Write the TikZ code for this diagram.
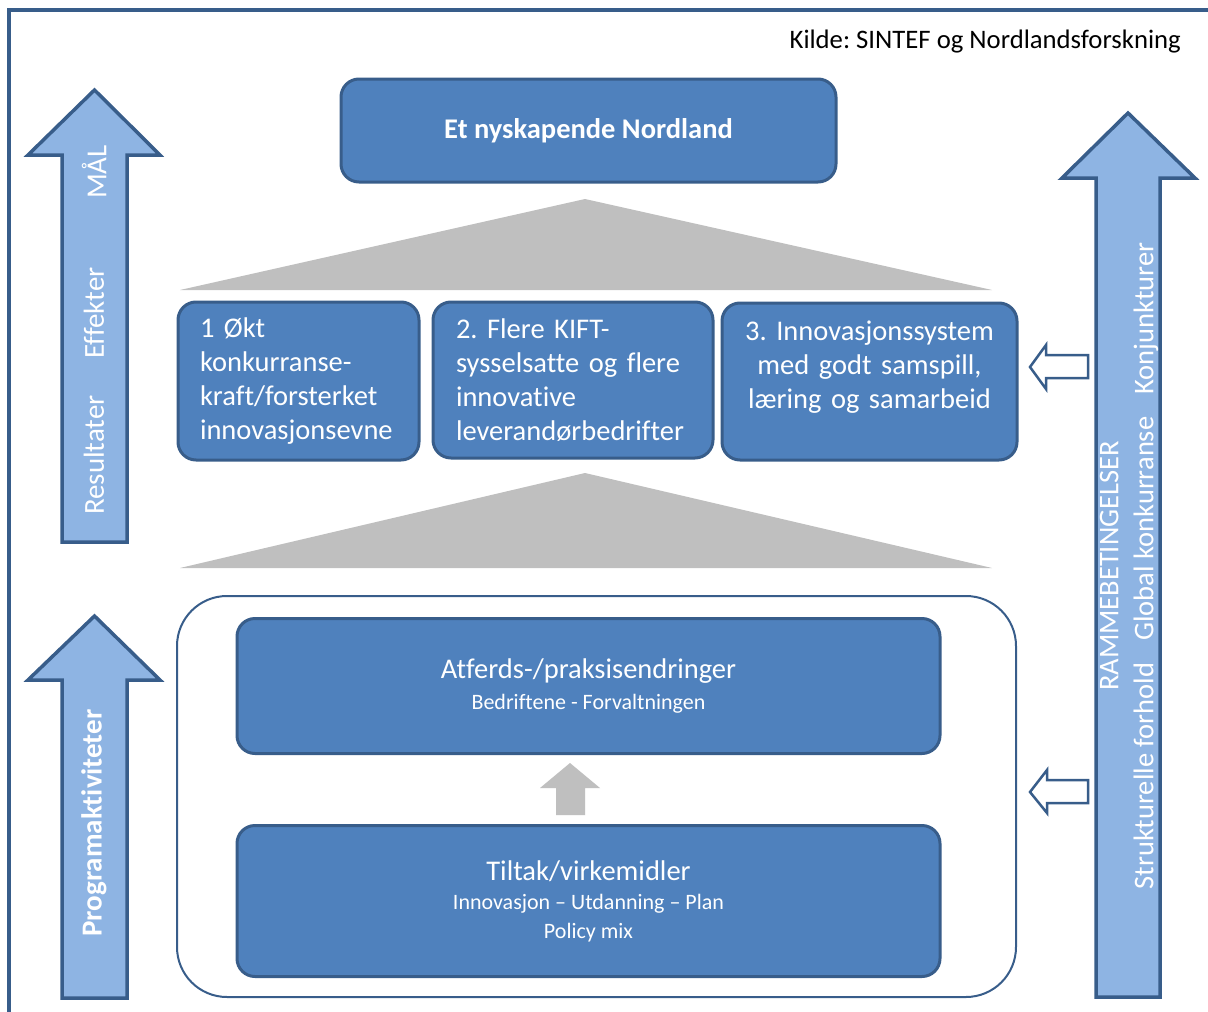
\documentclass[tikz,border=0pt]{standalone}
\usepackage{fontspec}
\setmainfont{Carlito}[Ligatures=NoCommon]
\frenchspacing
\definecolor{boxfill}{HTML}{4F81BD}
\definecolor{boxline}{HTML}{385D8A}
\definecolor{arrfill}{HTML}{8EB4E3}
\definecolor{grayfill}{HTML}{BFBFBF}
\begin{document}
\begin{tikzpicture}[x=1pt,y=-1pt,
  box/.style={draw=boxline, line width=3pt, fill=boxfill, rounded corners=18pt, text=white, inner sep=0pt},
  bigarrow/.style={draw=boxline, line width=3.5pt, fill=arrfill, line join=miter},
  hollow/.style={draw=boxline, line width=2.5pt, fill=white, line join=miter},
  tri/.style={fill=grayfill},
  vlabel/.style={rotate=90, text=white, font=\fontsize{29}{34}\selectfont, inner sep=0pt},
  boxtext/.style={font=\fontsize{28.5}{34}\selectfont}
]
\useasboundingbox (0,0) rectangle (1208,1012);
% frame
\draw[line width=4pt, boxline] (9,1014) -- (9,10) -- (1210,10);
\node[anchor=east, font=\fontsize{26.7}{30}\selectfont, inner sep=0pt] (src) at (1181,42) {Kilde: SINTEF og Nordlandsforskning};

% left arrows
\draw[bigarrow] (62,542) -- (62,155) -- (28,155) -- (94.5,90) -- (160,155) -- (127,155) -- (127,542) -- cycle;
\draw[bigarrow] (62,998) -- (62,680) -- (28,680) -- (94.5,616) -- (160,680) -- (127,680) -- (127,998) -- cycle;
\node[vlabel] (mal) at (94,172) {MÅL};
\node[vlabel] (eff) at (94,313) {Effekter};
\node[vlabel] (res) at (94,455) {Resultater};
\node[vlabel, font=\fontsize{29}{34}\selectfont\bfseries] (prog) at (94,823) {Programaktiviteter};

% right arrow
\draw[bigarrow] (1096,997) -- (1096,178) -- (1062,178) -- (1128,113) -- (1195,178) -- (1160,178) -- (1160,997) -- cycle;
\node[vlabel, align=center, font=\fontsize{28.5}{35}\selectfont] (ramme) at (1129,566)
  {RAMMEBETINGELSER\\Strukturelle forhold\hspace{22pt}Global konkurranse\hspace{22pt}Konjunkturer};

% hollow arrows
\draw[hollow] (1088,355) -- (1046,355) -- (1046,345) -- (1030,367) -- (1046,389) -- (1046,378) -- (1088,378) -- cycle;
\draw[hollow] (1088,780) -- (1047,780) -- (1047,770) -- (1030,792) -- (1047,813) -- (1047,803) -- (1088,803) -- cycle;

% top box
\node[box, minimum width=495pt, minimum height=103pt, font=\fontsize{28.5}{32}\selectfont\bfseries] (goal) at (588.5,130.5) {Et nyskapende Nordland};

% triangles
\fill[tri] (180,290) -- (585,199) -- (992,290) -- cycle;
\fill[tri] (180,568) -- (585,473) -- (992,568) -- cycle;

% middle boxes
\node[box, boxtext, minimum width=241pt, minimum height=158pt, text width=197pt, align=left] (b1) at (298.5,381)
  {1 Økt\\konkurranse-\\kraft/forsterket\\innovasjonsevne};
\node[box, boxtext, minimum width=280pt, minimum height=156pt, text width=234pt, align=left] (b2) at (573,380)
  {2. Flere KIFT-\\sysselsatte og flere\\innovative\\leverandørbedrifter};
\node[box, boxtext, minimum width=295pt, minimum height=157pt, text width=285pt, align=center] (b3) at (869.5,381.5)
  {3. Innovasjonssystem\\med godt samspill,\\læring og samarbeid\\\mbox{}};

% lower group
\node[draw=boxline, line width=2pt, fill=white, rounded corners=50pt, minimum width=839pt, minimum height=401pt] (grp) at (596.5,796.5) {};
\node[box, minimum width=703pt, minimum height=135pt, align=center, font=\fontsize{22}{31}\selectfont] (atf) at (588.5,686)
  {{\fontsize{28.5}{31}\selectfont Atferds-/praksisendringer}\\Bedriftene - Forvaltningen};
\node[box, minimum width=703pt, minimum height=151pt, align=center, font=\fontsize{22}{29}\selectfont] (tilt) at (588.5,901)
  {{\fontsize{28.5}{31}\selectfont Tiltak/virkemidler}\\Innovasjon -- Utdanning -- Plan\\Policy mix};
\fill[grayfill] (556,815) -- (556,788) -- (540,788) -- (570,763) -- (600,788) -- (585,788) -- (585,815) -- cycle;
\end{tikzpicture}
\end{document}
